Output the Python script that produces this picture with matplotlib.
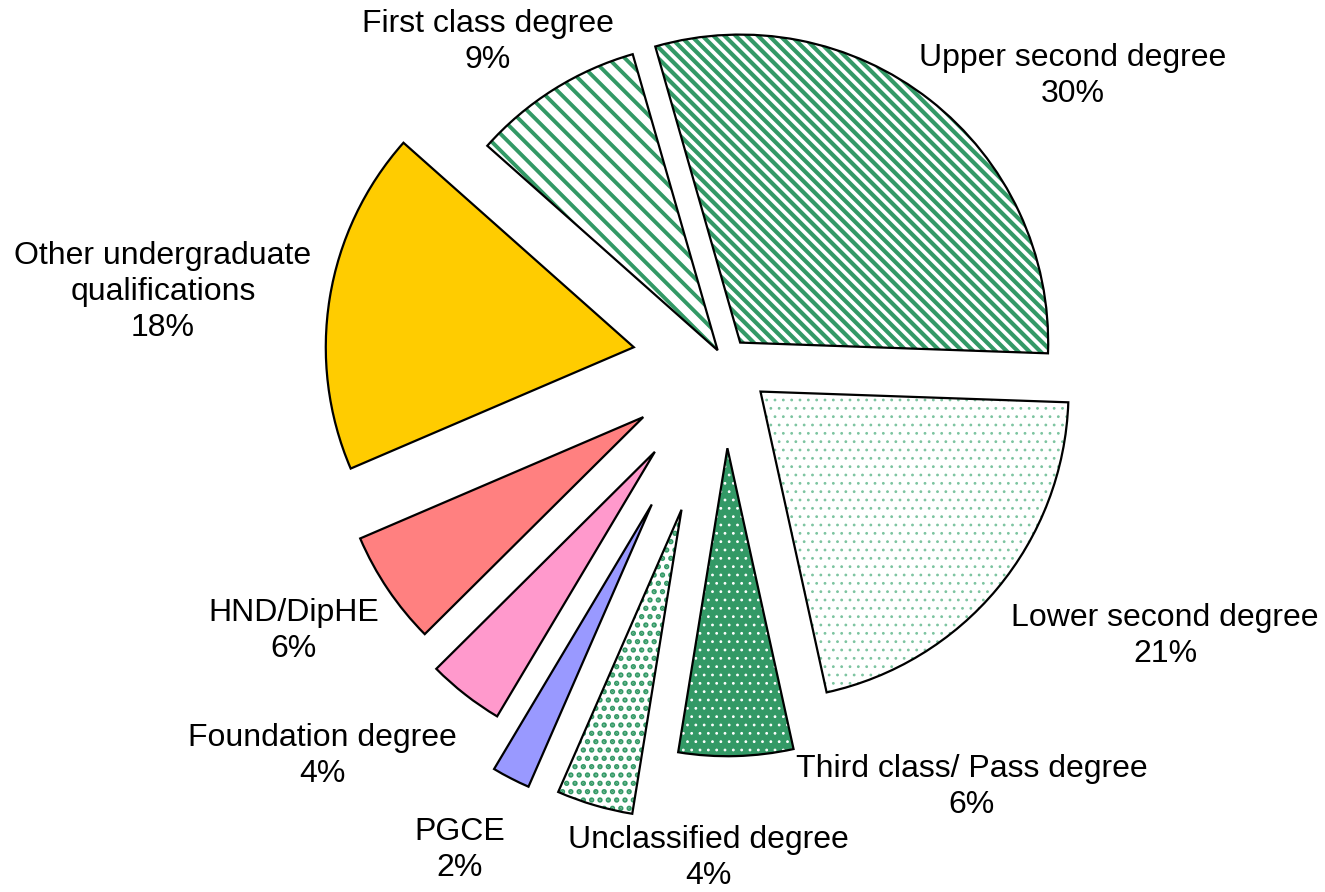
import numpy as np
import matplotlib
matplotlib.use("Agg")
import matplotlib.pyplot as plt
from matplotlib.patches import Wedge

plt.rcParams['font.family'] = ['Liberation Sans', 'DejaVu Sans']

# data (clockwise from the top)
labels = ["Upper second degree", "Lower second degree", "Third class/ Pass degree",
          "Unclassified degree", "PGCE", "Foundation degree", "HND/DipHE",
          "Other undergraduate\nqualifications", "First class degree"]
pct = [30, 21, 6, 4, 2, 4, 6, 18, 9]

green = '#339966'
faces = ['white', 'white', green, 'white', '#9999FF', '#FF99CC', '#FF8080', '#FFCC00', 'white']
hatches = ['\\\\\\', '..', '..', '..', None, None, None, None, '\\\\']
hcols = [green, '#7cc4a0', 'white', green, None, None, None, None, green]
hlw = [3.0, 0.8, 0.8, 2.6, 1, 1, 1, 1, 2.8]
explode = [0.08, 0.15, 0.28, 0.50, 0.52, 0.37, 0.32, 0.30, 0.045]

# label centres in pixels (x, y from top)
lab_px = [(1073, 76), (1165, 636), (972, 787), (708, 858), (460, 850),
          (322, 756), (294, 631), (163, 292), (488, 42)]

W, H = 1325, 892
R = 308.0
cx, cy = 725, 362

fig = plt.figure(figsize=(W / 100, H / 100), dpi=100)
ax = fig.add_axes([0, 0, 1, 1])
ax.set_xlim(-cx / R, (W - cx) / R)
ax.set_ylim(-(H - cy) / R, cy / R)
ax.set_aspect('equal')
ax.axis('off')

plt.rcParams['hatch.linewidth'] = 2.2

start = 106.0
a = start
for i in range(len(pct)):
    span = pct[i] / 100 * 360
    t1, t2 = a - span, a
    mid = np.deg2rad((t1 + t2) / 2)
    c = (explode[i] * np.cos(mid), explode[i] * np.sin(mid))
    if hatches[i]:
        w = Wedge(c, 1, t1, t2, facecolor=faces[i], edgecolor=hcols[i],
                  hatch=hatches[i], linewidth=0)
        if hasattr(w, 'set_hatch_linewidth'):
            w.set_hatch_linewidth(hlw[i])
        ax.add_patch(w)
    else:
        ax.add_patch(Wedge(c, 1, t1, t2, facecolor=faces[i], linewidth=0))
    ax.add_patch(Wedge(c, 1, t1, t2, fill=False, edgecolor='black',
                       linewidth=1.6, joinstyle='miter'))
    a = t1

for i in range(len(labels)):
    px, py = lab_px[i]
    ax.text((px - cx) / R, (cy - py) / R, "%s\n%d%%" % (labels[i], pct[i]),
            ha='center', va='center', fontsize=23, linespacing=1.25)

fig.savefig("out.png", dpi=100)
